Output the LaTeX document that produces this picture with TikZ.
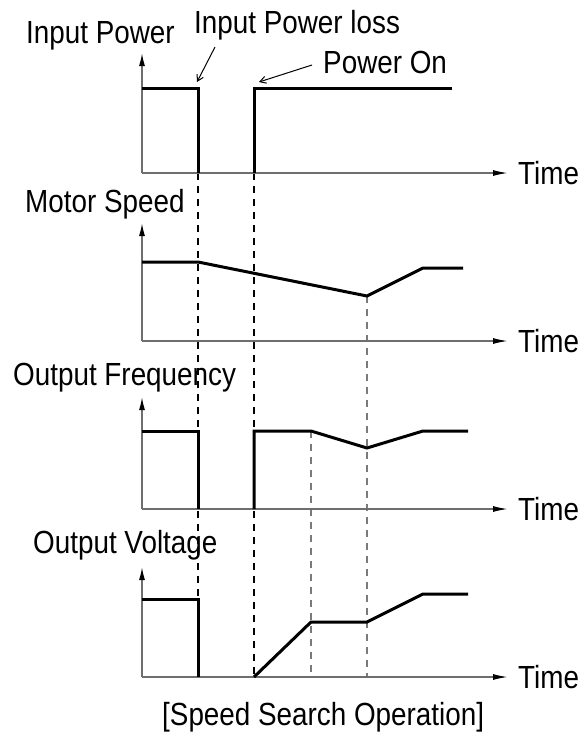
\documentclass[tikz,border=0pt]{standalone}
\usepackage{fontspec}
\setmainfont{Liberation Sans}[FakeStretch=0.87]
\usetikzlibrary{arrows.meta}
\definecolor{AxisGray}{HTML}{6E6E6E}
\definecolor{GuideGray}{HTML}{7A7A7A}

\begin{document}
\begin{tikzpicture}[x=1pt, y=-1pt,
  lbl/.style={inner sep=0pt, anchor=base west, font=\fontsize{32}{38}\selectfont},
  axis/.style={AxisGray, line width=1.5pt},
  xarr/.style={axis, -{Latex[length=15pt, width=6pt, color=black]}},
  yarr/.style={axis, -{Latex[length=13pt, width=6pt, color=black]}},
  sig/.style={black, line width=3pt, line join=miter},
  guide/.style={line width=1.2pt, dash pattern=on 7pt off 6pt},
  lead/.style={line width=1pt, -{Straight Barb[length=6pt, width=7pt]}}
]
\useasboundingbox (0,0) rectangle (586,737);

% dashed time marks
\draw[guide] (198,173) -- (198,677);
\draw[guide] (254,173) -- (254,677);
\draw[guide, GuideGray] (311,431) -- (311,677);
\draw[guide, GuideGray] (367,296) -- (367,677);

% axes and Time labels
\foreach \base/\tip in {173/53, 341/223, 509/397, 677/567} {
  \draw[yarr] (142,\base) -- (142,\tip);
  \draw[xarr] (142,\base) -- (508,\base);
  \node[lbl] (time\base) at (518,\base+11) {Time};
}

\node[lbl] (inpow) at (26,43) {Input Power};
\node[lbl] (loss) at (194,33) {Input Power loss};
\node[lbl] (pwron) at (323,73) {Power On};
\node[lbl] (speed) at (25,212) {Motor Speed};
\node[lbl] (freq) at (13,385) {Output Frequency};
\node[lbl] (volt) at (33,553) {Output Voltage};
\node[lbl] (caption) at (162,725) {[Speed Search Operation]};

% input power
\draw[sig] (142,88) -- (198,88) -- (198,173);
\draw[sig] (254,173) -- (254,88) -- (452,88);
\coordinate (lossfrom) at (215,47);
\coordinate (lossat) at (197,82);
\coordinate (onfrom) at (312,65);
\coordinate (onat) at (259,82);
\draw[lead] (lossfrom) -- (lossat);
\draw[lead] (onfrom) -- (onat);

% motor speed
\draw[sig] (142,262) -- (198,262) -- (367,296) -- (423,268) -- (463,268);

% output frequency
\draw[sig] (142,431) -- (198,431) -- (198,509);
\draw[sig] (254,509) -- (254,431) -- (311,431) -- (367,448) -- (423,431) -- (468,431);

% output voltage
\draw[sig] (142,599) -- (198,599) -- (198,677);
\draw[sig] (254,677) -- (311,622) -- (367,622) -- (423,594) -- (468,594);
\end{tikzpicture}
\end{document}
